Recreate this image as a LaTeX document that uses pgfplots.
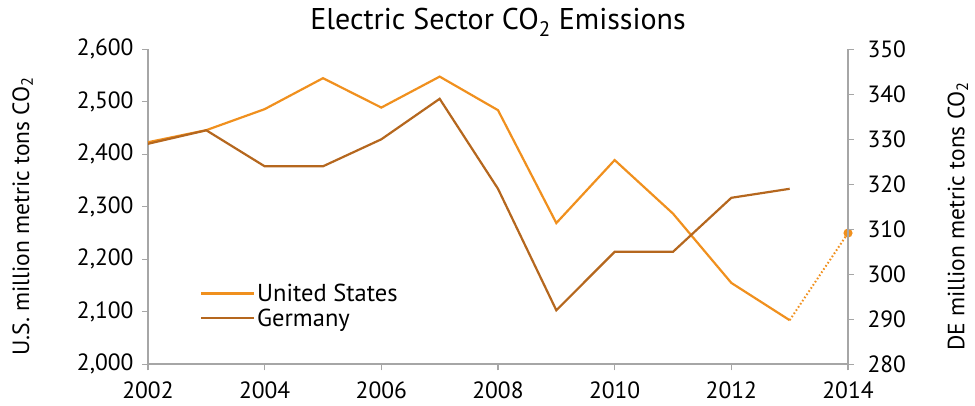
\documentclass[border=0pt]{standalone}
\usepackage{fontspec}
\setmainfont{PT Sans}
\usepackage{pgfplots}
\pgfplotsset{compat=1.18}
\definecolor{uscol}{HTML}{F0901E}
\definecolor{decol}{HTML}{B5671E}
\definecolor{axg}{HTML}{A6A6A6}

\pgfplotstableread{
year us
2002 2423
2003 2446
2004 2486
2005 2545
2006 2489
2007 2548
2008 2484
2009 2269
2010 2389
2011 2287
2012 2155
2013 2084
}\ustable

\pgfplotstableread{
year de
2002 329
2003 332
2004 324
2005 324
2006 330
2007 339
2008 319
2009 292
2010 305
2011 305
2012 317
2013 319
}\detable

\pgfplotsset{
  common/.style={
    scale only axis, width=700pt, height=315pt,
    at={(148pt,41.7pt)}, anchor=south west,
    xmin=2002, xmax=2014,
    axis line style={axg, line width=1.6pt},
    tick style={axg, line width=1.4pt},
    tick align=outside, major tick length=6pt,
    /pgf/number format/assume math mode=true,
    tick label style={font=\fontsize{23.5}{23.5}\selectfont},
    label style={font=\fontsize{23.5}{23.5}\selectfont},
  }
}

\begin{document}
\begin{tikzpicture}
\path[use as bounding box] (0,0) rectangle (975pt,406pt);
\begin{axis}[common,
  axis x line*=bottom, axis y line*=left,
  ymin=2000, ymax=2600,
  xtick={2002,2004,...,2014},
  ytick={2000,2100,...,2600},
  xticklabel style={/pgf/number format/1000 sep={}, yshift=-10pt, inner sep=1pt},
  yticklabel style={/pgf/number format/1000 sep={,}, xshift=-5pt},
  ylabel={U.S. million metric tons CO\textsubscript{2}},
  ylabel style={at={(axis description cs:-0.179,0.47)}, anchor=center, rotate=0},
  title={Electric Sector CO\textsubscript{2} Emissions},
  title style={at={(axis description cs:0.5,1)}, anchor=base, yshift=13.3pt, font=\fontsize{30}{30}\selectfont},
  legend style={draw=none, fill=none, at={(axis description cs:0.074,0.262)}, anchor=north west,
    font=\fontsize{24.5}{24.5}\selectfont, row sep=2pt, inner sep=0pt},
  legend cell align=left,
  legend image code/.code={\draw[#1] (0pt,0pt) -- (53pt,0pt);},
  clip=false,
]
\addplot[uscol, line width=2.2pt] table[x=year, y=us] {\ustable};
\addlegendentry{United States}
\addlegendimage{decol, line width=2.2pt}
\addlegendentry{Germany}
\addplot[uscol, line width=2pt, dash pattern=on 1.6pt off 2.2pt, mark=*, mark size=3.5pt, mark indices={2}, mark options={solid}] coordinates {(2013,2084) (2014,2250)};
\end{axis}
\begin{axis}[common,
  axis x line=none, axis y line*=right,
  ymin=280, ymax=350,
  ytick={280,290,...,350},
  yticklabel style={xshift=10pt},
  ylabel={DE million metric tons CO\textsubscript{2}},
  ylabel style={at={(axis description cs:1.157,0.47)}, anchor=center, rotate=0},
]
\addplot[decol, line width=2.2pt] table[x=year, y=de] {\detable};
\end{axis}
\end{tikzpicture}
\end{document}
